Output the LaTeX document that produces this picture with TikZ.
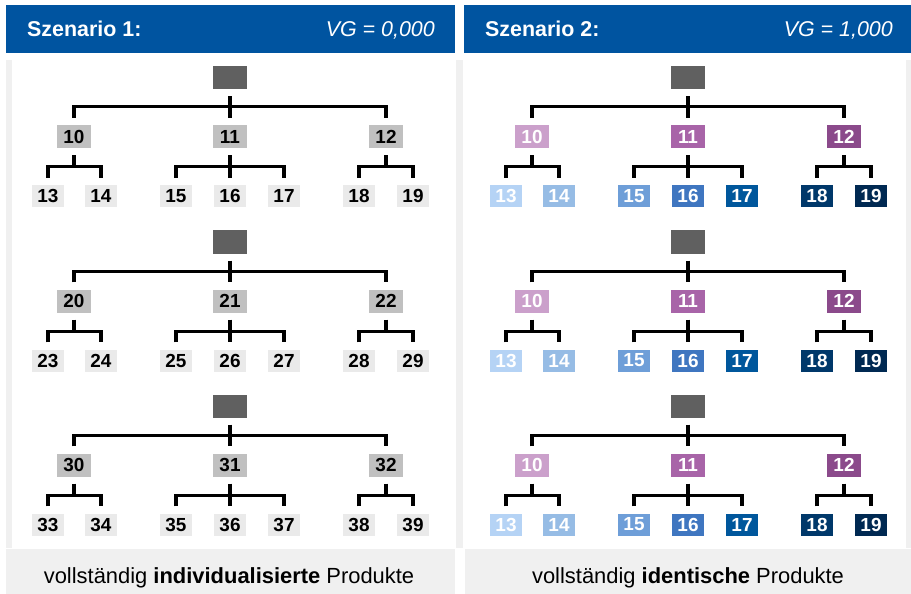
\documentclass[tikz,border=0pt]{standalone}
\usepackage{fontspec}
\setmainfont{Liberation Sans}
\definecolor{hdr}{RGB}{0,84,160}
\definecolor{pgray}{RGB}{240,240,240}
\definecolor{rootc}{RGB}{96,96,96}
\definecolor{lvtwo}{RGB}{192,192,192}
\definecolor{lvleaf}{RGB}{234,234,234}
\definecolor{pa}{RGB}{203,160,203}
\definecolor{pb}{RGB}{168,100,168}
\definecolor{pc}{RGB}{139,74,139}
\definecolor{ba}{RGB}{181,211,245}
\definecolor{bb}{RGB}{150,188,229}
\definecolor{bc}{RGB}{110,158,216}
\definecolor{bd}{RGB}{63,118,192}
\definecolor{be}{RGB}{0,87,156}
\definecolor{bf}{RGB}{0,56,106}
\definecolor{bg}{RGB}{0,41,82}
\tikzset{
  box/.style={minimum width=34bp, minimum height=23bp, inner sep=0pt, font=\fontsize{19}{19}\selectfont\bfseries},
  leaf/.style={box, minimum width=32bp, minimum height=22bp},
  conn/.style={line width=3.4bp, black},
  Lc0/.style={fill=lvtwo, text=black}, Lc1/.style={fill=lvtwo, text=black}, Lc2/.style={fill=lvtwo, text=black},
  Lc3/.style={fill=lvleaf, text=black}, Lc4/.style={fill=lvleaf, text=black}, Lc5/.style={fill=lvleaf, text=black},
  Lc6/.style={fill=lvleaf, text=black}, Lc7/.style={fill=lvleaf, text=black}, Lc8/.style={fill=lvleaf, text=black},
  Lc9/.style={fill=lvleaf, text=black},
  Rc0/.style={fill=pa, text=white}, Rc1/.style={fill=pb, text=white}, Rc2/.style={fill=pc, text=white},
  Rc3/.style={fill=ba, text=white}, Rc4/.style={fill=bb, text=white}, Rc5/.style={fill=bc, text=white},
  Rc6/.style={fill=bd, text=white}, Rc7/.style={fill=be, text=white}, Rc8/.style={fill=bf, text=white},
  Rc9/.style={fill=bg, text=white},
  hdrtext/.style={text=white, font=\fontsize{21.5}{21.5}\selectfont, inner sep=0pt},
  foottext/.style={text=black, font=\fontsize{22}{22}\selectfont, inner sep=0pt}
}
\newcommand\mytree[5]{%
\begin{scope}[shift={(#1,#2)}]
\node[box,fill=rootc] (#4r) at (230,0) {};
\node[box,#5c0] (#4n0) at (74,59) {#30};
\node[box,#5c1] (#4n1) at (230,59) {#31};
\node[box,#5c2] (#4n2) at (386,59) {#32};
\node[leaf,#5c3] (#4n3) at (48,118.5) {#33};
\node[leaf,#5c4] (#4n4) at (101,118.5) {#34};
\node[leaf,#5c5] (#4n5) at (176,118.5) {#35};
\node[leaf,#5c6] (#4n6) at (230,118.5) {#36};
\node[leaf,#5c7] (#4n7) at (284,118.5) {#37};
\node[leaf,#5c8] (#4n8) at (359,118.5) {#38};
\node[leaf,#5c9] (#4n9) at (413,118.5) {#39};
\draw[conn] ([yshift=-7bp]#4r.south) -- ([yshift=7bp]#4n1.north);
\draw[conn] ([yshift=7bp]#4n0.north) -- ++(0,-11) -| ([yshift=7bp]#4n2.north);
\draw[conn] ([yshift=-7bp]#4n0.south) -- ++(0,12);
\draw[conn] ([yshift=7bp]#4n3.north) -- ++(0,-11) -| ([yshift=7bp]#4n4.north);
\draw[conn] ([yshift=-7bp]#4n1.south) -- ([yshift=7bp]#4n6.north);
\draw[conn] ([yshift=7bp]#4n5.north) -- ++(0,-11) -| ([yshift=7bp]#4n7.north);
\draw[conn] ([yshift=-7bp]#4n2.south) -- ++(0,12);
\draw[conn] ([yshift=7bp]#4n8.north) -- ++(0,-11) -| ([yshift=7bp]#4n9.north);
\end{scope}}
\begin{document}
\begin{tikzpicture}[x=1bp,y=-1bp]
\useasboundingbox (0,0) rectangle (911,594);
% headers
\fill[hdr] (6,5) rectangle (455,53);
\fill[hdr] (464,5) rectangle (911,53);
\node[hdrtext, anchor=base west] (h1) at (27,36.5) {\bfseries Szenario 1:};
\node[hdrtext, anchor=base east] (v1) at (435,36.5) {\itshape VG = 0,000};
\node[hdrtext, anchor=base west] (h2) at (485,36.5) {\bfseries Szenario 2:};
\node[hdrtext, anchor=base east] (v2) at (893,36.5) {\itshape VG = 1,000};
% panel borders
\fill[pgray] (6,60) rectangle (12,548);
\fill[pgray] (456,60) rectangle (463,548);
\fill[pgray] (906,60) rectangle (911,548);
% footers
\fill[pgray] (6,549) rectangle (455,594);
\fill[pgray] (465,549) rectangle (911,594);
\node[foottext, anchor=base] (f1) at (229,583) {vollständig \textbf{individualisierte} Produkte};
\node[foottext, anchor=base] (f2) at (688,583) {vollständig \textbf{identische} Produkte};
% trees
\mytree{0}{77.5}{1}{a}{L}
\mytree{0}{242}{2}{b}{L}
\mytree{0}{406}{3}{c}{L}
\mytree{458}{77.5}{1}{d}{R}
\mytree{458}{242}{1}{e}{R}
\mytree{458}{406}{1}{f}{R}
\end{tikzpicture}
\end{document}
